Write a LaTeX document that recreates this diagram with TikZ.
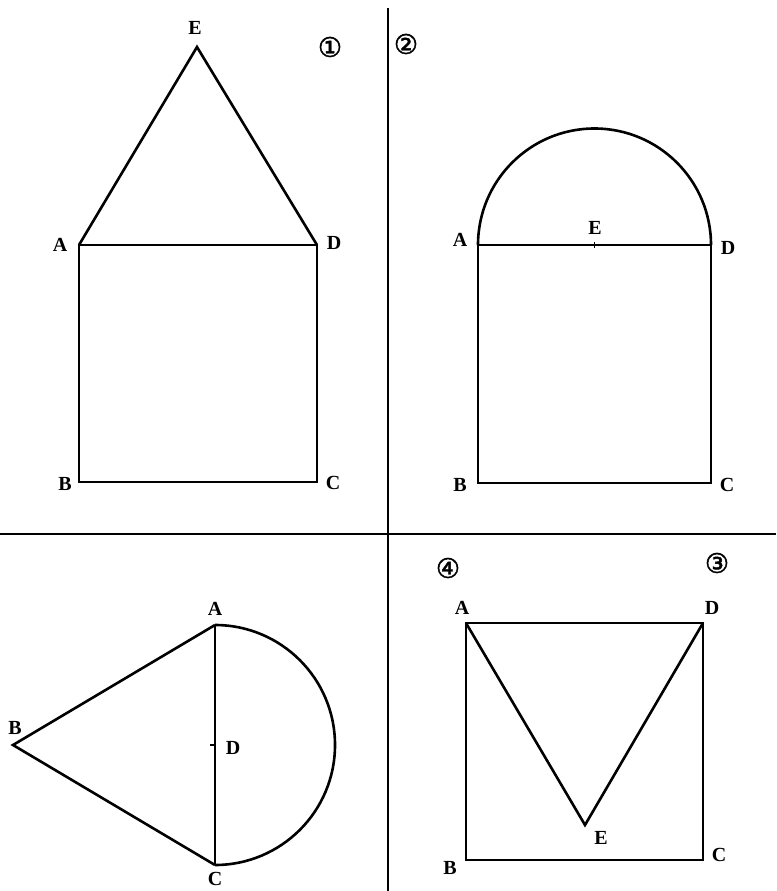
\documentclass[tikz,border=0pt]{standalone}
\usepackage{fontspec}
\setmainfont{Liberation Serif}
\newfontfamily\symfont[FakeBold=1.6]{DejaVu Sans}
\begin{document}
\begin{tikzpicture}[x=1pt,y=-1pt,
  fig/.style={line width=2.6pt, line join=miter},
  divider/.style={line width=1.5pt},
  lbl/.style={font=\fontsize{20}{22}\selectfont\bfseries, inner sep=0pt},
  num/.style={font=\symfont\fontsize{27}{29}\selectfont, inner sep=0pt},
  pt/.style={inner sep=0pt, minimum size=0pt}]
\useasboundingbox (0,0) rectangle (776,891);
% dividers
\coordinate (vt) at (388,8); \coordinate (vb) at (388,891);
\coordinate (hl) at (0,534); \coordinate (hr) at (776,534);
\draw[divider] (vt) -- (vb);
\draw[divider] (hl) -- (hr);
% ---------- panel 1
\coordinate (1E) at (197,47);
\coordinate (1A) at (79,245);
\coordinate (1D) at (317,245);
\coordinate (1B) at (79,482);
\coordinate (1C) at (317,482);
\draw[fig] (1A) -- (1E) -- (1D);
\draw[fig] (1A) -- (1B) -- (1C) -- (1D) -- cycle;
\node[lbl] (l1E) at (195,28) {E};
\node[lbl] (l1A) at (60,245) {A};
\node[lbl] (l1D) at (334,243) {D};
\node[lbl] (l1B) at (65,484) {B};
\node[lbl] (l1C) at (333,483) {C};
\node[num] (n1) at (330,47) {①};
% ---------- panel 2
\coordinate (2A) at (478,245);
\coordinate (2D) at (711,245);
\coordinate (2B) at (478,483);
\coordinate (2C) at (711,483);
\coordinate (2E) at (594.5,245);
\draw[fig] (2A) arc[start angle=180,end angle=360,radius=116.5];
\draw[fig] (2A) -- (2B) -- (2C) -- (2D);
\draw[line width=1.8pt] (2A) -- (2D);
\draw[line width=1.2pt] ([yshift=-3]2E) -- ([yshift=3]2E);
\node[lbl] (l2A) at (460,240) {A};
\node[lbl] (l2E) at (595,228) {E};
\node[lbl] (l2D) at (728,248) {D};
\node[lbl] (l2B) at (460,485) {B};
\node[lbl] (l2C) at (727,485) {C};
\node[num] (n2) at (406,44) {②};
% ---------- panel 3
\coordinate (3A) at (215,625);
\coordinate (3C) at (215,865);
\coordinate (3D) at (215,745);
\coordinate (3B) at (13,745);
\draw[fig] (3A) -- (3B) -- (3C);
\draw[fig] (3A) -- (3C);
\draw[fig] (3A) arc[start angle=-90,end angle=90,radius=120];
\draw[line width=1.2pt] (3D) -- ([xshift=-5]3D);
\node[lbl] (l3A) at (215,609) {A};
\node[lbl] (l3B) at (15,728) {B};
\node[lbl] (l3D) at (233,748) {D};
\node[lbl] (l3C) at (215,879) {C};
\node[num] (n3) at (717,563) {③};
% ---------- panel 4
\coordinate (4A) at (466,623);
\coordinate (4D) at (703,623);
\coordinate (4B) at (466,860);
\coordinate (4C) at (703,860);
\coordinate (4E) at (585,825);
\draw[fig] (4A) -- (4B) -- (4C) -- (4D) -- cycle;
\draw[fig] (4A) -- (4E) -- (4D);
\node[lbl] (l4A) at (462,608) {A};
\node[lbl] (l4D) at (712,608) {D};
\node[lbl] (l4B) at (450,868) {B};
\node[lbl] (l4C) at (719,855) {C};
\node[lbl] (l4E) at (601,838) {E};
\node[num] (n4) at (448,568) {④};
\end{tikzpicture}
\end{document}
